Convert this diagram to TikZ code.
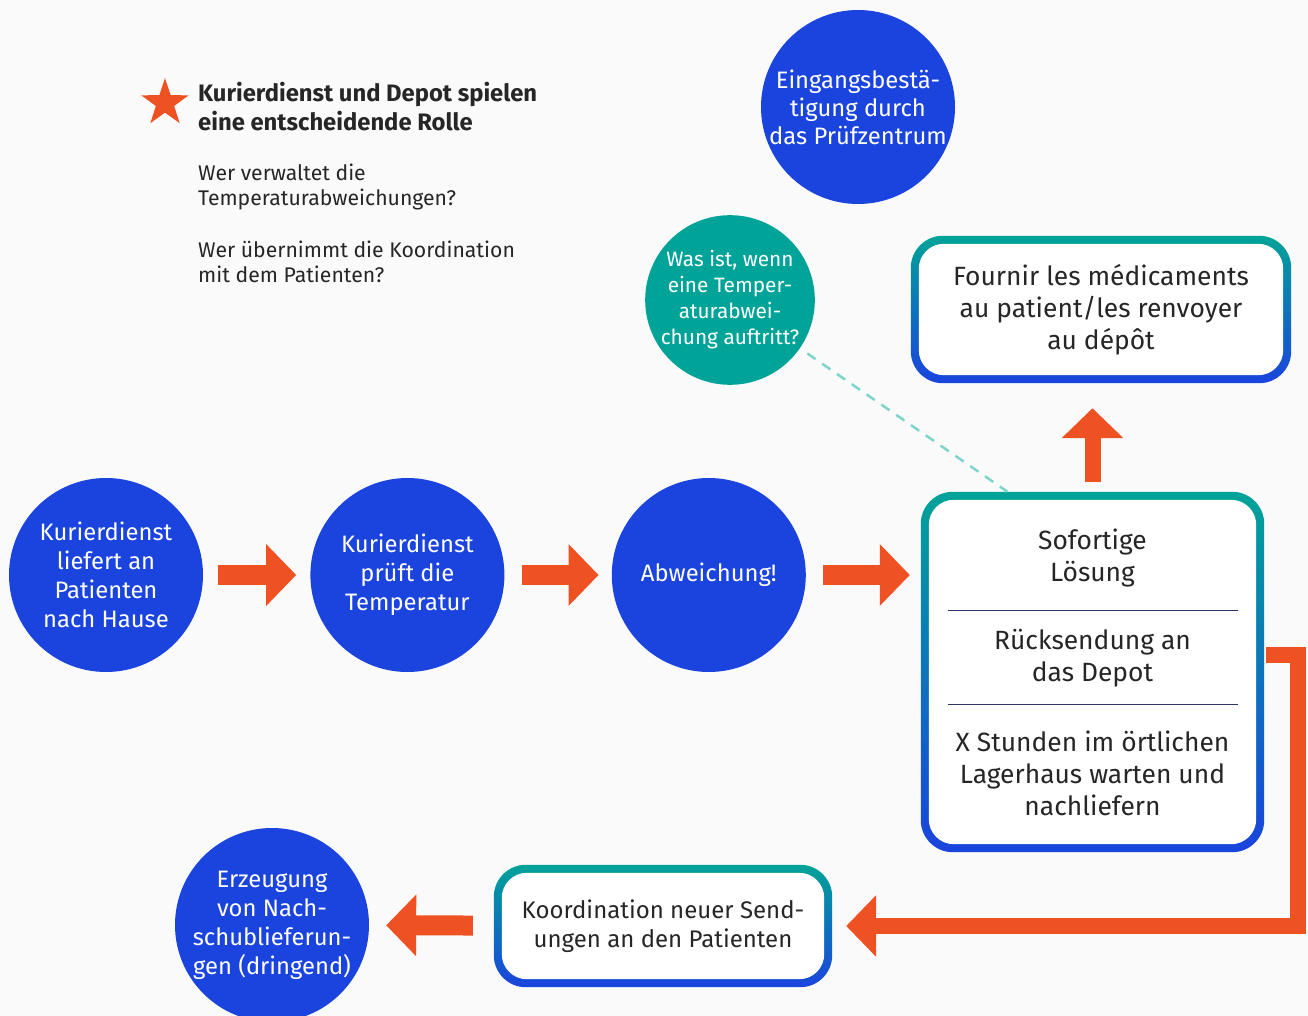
\documentclass[tikz,border=0pt]{standalone}
\usepackage{fontspec}
\setmainfont{Fira Sans}
\usepackage{tikz}
\usetikzlibrary{arrows.meta, positioning, shapes.geometric, backgrounds, calc}
\definecolor{pcBlue}{HTML}{1A44DD}
\definecolor{pcTeal}{HTML}{00A398}
\definecolor{pcOrange}{HTML}{EE5222}
\definecolor{pcInk}{HTML}{262626}
\definecolor{pcLine}{HTML}{2B3566}
\definecolor{pcPaper}{HTML}{FAFAFA}
\definecolor{pcDash}{HTML}{7FD4CC}

% teal-to-blue frame behind a named node
\newcommand{\gradframe}[1]{%
  \begin{scope}[on background layer]
    \shade[top color=pcTeal, bottom color=pcBlue, rounded corners=32pt]
      (#1.south west) rectangle (#1.north east);
    \fill[white, rounded corners=25pt]
      ([shift={(8pt,8pt)}]#1.south west) rectangle ([shift={(-8pt,-8pt)}]#1.north east);
  \end{scope}}

\begin{document}
\begin{tikzpicture}[x=1pt, y=-1pt,
  bubble/.style={circle, fill=pcBlue, text=white, align=center, inner sep=0pt,
                 minimum size=194pt, font=\fontsize{23.8}{29}\selectfont},
  askbubble/.style={bubble, fill=pcTeal, minimum size=168pt,
                    font=\fontsize{20.8}{26}\selectfont},
  panel/.style={rectangle, inner sep=0pt, align=center, text=pcInk,
                font=\fontsize{26.4}{32}\selectfont},
  note/.style={anchor=north west, align=left, inner sep=0pt, text=pcInk,
               font=\fontsize{21.2}{25}\selectfont},
  flow/.style={pcOrange, line width=20pt, -{Triangle[length=30pt, width=60pt]}},
  sep/.style={pcLine, line width=1pt}
]
  \useasboundingbox (0,0) rectangle (1308,1016);
  \begin{scope}[on background layer]
    \fill[pcPaper] (0,0) rectangle (1308,1016);
  \end{scope}

  % legend
  \node[star, star points=5, star point ratio=2.6, fill=pcOrange, inner sep=0pt,
        minimum size=50pt] (flag) at (165,103) {};
  \node[note, font=\bfseries\fontsize{23.8}{29}\selectfont] (head) at (198,82)
    {Kurierdienst und Depot spielen\\eine entscheidende Rolle};
  \node[note] (q1) at (198,164) {Wer verwaltet die\\Temperaturabweichungen?};
  \node[note] (q2) at (198,241) {Wer übernimmt die Koordination\\mit dem Patienten?};

  % main flow
  \node[bubble] (home) at (106,575) {Kurierdienst\\liefert an\\Patienten\\nach Hause};
  \node[bubble, right=107pt of home] (check) {Kurierdienst\\prüft die\\Temperatur};
  \node[bubble, right=107pt of check] (dev) {Abweichung!};
  \node[panel, minimum width=343pt, minimum height=360pt] (sol) at (1092.5,672) {};
  \node[panel] (now) at (1092.5,558) {Sofortige\\Lösung};
  \node[panel] (ret) at (1092.5,658) {Rücksendung an\\das Depot};
  \node[panel] (wait) at (1092.5,773) {X Stunden im örtlichen\\Lagerhaus warten und\\nachliefern};
  \draw[sep] (948,610) -- (1238,610);
  \draw[sep] (948,704) -- (1238,704);

  \node[panel, minimum width=380pt, minimum height=147pt] (give) at (1101,309.5)
    {Fournir les médicaments\\au patient/les renvoyer\\au dépôt};
  \node[askbubble] (ask) at (730,300) {Was ist, wenn\\eine Temper-\\aturabwei-\\chung auftritt?};
  \node[bubble, font=\fontsize{23.8}{28}\selectfont] (ack) at (858,107)
    {Eingangsbestä-\\tigung durch\\das Prüfzentrum};
  \node[panel, font=\fontsize{24}{29}\selectfont, minimum width=338pt,
        minimum height=122pt] (coord) at (663,926)
    {Koordination neuer Send-\\ungen an den Patienten};
  \node[bubble] (refill) at (272,925) {Erzeugung\\von Nach-\\schublieferun-\\gen (dringend)};

  \gradframe{sol}
  \gradframe{give}
  \gradframe{coord}

  \draw[flow, shorten <=15pt, shorten >=14pt] (home) -- (check);
  \draw[flow, shorten <=17pt, shorten >=13pt] (check) -- (dev);
  \draw[flow, shorten <=17pt, shorten >=11pt] (dev) -- (dev -| sol.west);
  \draw[flow, line width=16pt, shorten <=10pt, shorten >=25pt] (sol.north) -- (sol.north |- give.south);
  \draw[flow, line width=16pt, shorten <=2pt, shorten >=14pt] ([yshift=17pt]sol.east) -- ++(34,0) |- (coord.east);
  \draw[flow, shorten <=21pt, shorten >=17pt] (coord) -- (refill);
  \draw[pcDash, line width=2.5pt, dash pattern=on 10pt off 8pt, shorten <=9pt] (ask) -- ([xshift=-85pt]sol.north);
\end{tikzpicture}
\end{document}
